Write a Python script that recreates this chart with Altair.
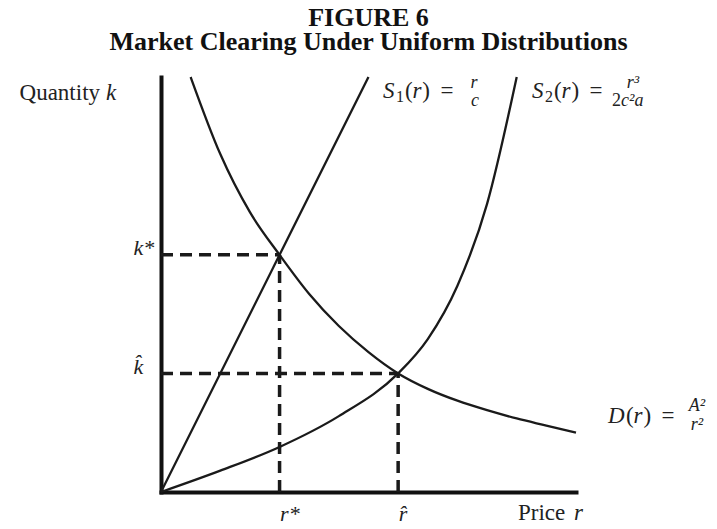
import altair as alt
import pandas as pd

# ---- values (r = price, k = quantity) ----
s1_r = [0.0, 1.75]
s1_k = [0.0, 3.5]
s2_r = [0.0, 0.5, 1.0, 1.5, 2.0, 2.25, 2.5, 2.75, 3.0]
s2_k = [0.0, 0.18, 0.38, 0.64, 1.0, 1.29, 1.74, 2.43, 3.5]
d_r = [0.25, 0.5, 0.75, 1.0, 1.25, 1.5, 1.75, 2.0, 2.25, 2.5, 2.75, 3.0, 3.25, 3.5]
d_k = [3.5, 2.85, 2.36, 2.0, 1.67, 1.4, 1.18, 1.0, 0.87, 0.77, 0.69, 0.62, 0.56, 0.5]

eq_r = [1.0, 2.0]            # r*, r-hat
eq_k = [2.0, 1.0]            # k*, k-hat
x_tick_labels = ["r*", "r\u0302"]
y_tick_labels = ["k*", "k\u0302"]
axis_max = 3.5

title_lines = ["FIGURE 6", "Market Clearing Under Uniform Distributions"]

# annotation pieces: text, r, k, font size, style, align
ann_text = ["Quantity", "k", "Price", "r",
            "S", "1", "(", "r", ")", "=", "r", "c",
            "S", "2", "(", "r", ")", "=", "r\u00b3", "2", "c\u00b2a",
            "D", "(", "r", ")", "=", "A\u00b2", "r\u00b2"]
ann_r = [-0.514, -0.464, 3.011, 3.483,
         1.872, 1.982, 2.058, 2.159, 2.269, 2.412, 2.640, 2.648,
         3.129, 3.239, 3.314, 3.416, 3.526, 3.669, 3.981, 3.880, 3.880,
         3.770, 3.922, 4.023, 4.133, 4.276, 4.520, 4.520]
ann_k = [3.306, 3.306, -0.236, -0.236,
         3.323, 3.289, 3.323, 3.323, 3.323, 3.323, 3.407, 3.255,
         3.323, 3.289, 3.323, 3.323, 3.323, 3.323, 3.407, 3.255, 3.255,
         0.582, 0.582, 0.582, 0.582, 0.582, 0.683, 0.523]
ann_size = [23, 23, 23, 23,
            23, 16, 23, 23, 23, 23, 18, 18,
            23, 16, 23, 23, 23, 23, 18, 18, 18,
            23, 23, 23, 23, 23, 18, 18]
ann_style = ["normal", "italic", "normal", "italic",
             "italic", "normal", "normal", "italic", "normal", "normal", "italic", "italic",
             "italic", "normal", "normal", "italic", "normal", "normal", "italic", "normal", "italic",
             "italic", "normal", "italic", "normal", "normal", "italic", "italic"]
ann_align = ["right", "left", "left", "left",
             "left", "left", "left", "center", "right", "center", "center", "center",
             "left", "left", "left", "center", "right", "center", "center", "right", "left",
             "left", "left", "center", "right", "center", "center", "center"]

# ---- tables ----
rows = []
for name, rs, ks in [("S1", s1_r, s1_k), ("S2", s2_r, s2_k), ("D", d_r, d_k)]:
    for i, (r, k) in enumerate(zip(rs, ks)):
        rows.append({"series": name, "i": i, "r": r, "k": k})
curves = pd.DataFrame(rows)

dash_rows = []
for r, k in zip(eq_r, eq_k):
    dash_rows.append({"r0": 0.0, "r1": r, "k0": k, "k1": k})
    dash_rows.append({"r0": r, "r1": r, "k0": 0.0, "k1": k})
dashes = pd.DataFrame(dash_rows)

ann = pd.DataFrame({"text": ann_text, "r": ann_r, "k": ann_k, "size": ann_size,
                    "style": ann_style, "align": ann_align})

FONT = "Liberation Serif"
INK = "#1a1a1a"

xs = alt.Scale(domain=[0, axis_max], nice=False, zero=True)
ys = alt.Scale(domain=[0, axis_max], nice=False, zero=True)

x_expr = f"datum.value == {eq_r[0]} ? '{x_tick_labels[0]}' : '{x_tick_labels[1]}'"
y_expr = f"datum.value == {eq_k[0]} ? '{y_tick_labels[0]}' : '{y_tick_labels[1]}'"

common_axis = dict(title=None, grid=False, ticks=False, tickSize=0, domainWidth=4,
                   domainColor="#111", domainCap="square", labelFont=FONT,
                   labelFontStyle="italic", labelFontSize=22, labelColor="#222",
                   labelAlign="left", labelBaseline="alphabetic", labelPadding=28,
                   labelOverlap=False, labelFlush=False)
xa = alt.Axis(values=eq_r, labelExpr=x_expr, **common_axis)
ya = alt.Axis(values=sorted(eq_k), labelExpr=y_expr, **common_axis)

dash_layer = alt.Chart(dashes).mark_rule(
    color="#1a1a1a", strokeWidth=3.5, strokeDash=[12, 7]
).encode(
    x=alt.X("r0:Q", scale=xs, axis=xa), x2="r1:Q",
    y=alt.Y("k0:Q", scale=ys, axis=ya), y2="k1:Q",
)

curve_layer = alt.Chart(curves).mark_line(
    interpolate="monotone", color=INK, strokeWidth=2.3
).encode(
    x=alt.X("r:Q", scale=xs, axis=xa),
    y=alt.Y("k:Q", scale=ys, axis=ya),
    detail="series:N",
    order="i:Q",
)

text_layers = []
for style in ["normal", "italic"]:
    for align in ["left", "center", "right"]:
        sub = ann[(ann["style"] == style) & (ann["align"] == align)]
        if len(sub) == 0:
            continue
        text_layers.append(
            alt.Chart(sub).mark_text(
                align=align, baseline="alphabetic", font=FONT, fontStyle=style,
                color="#222"
            ).encode(
                x=alt.X("r:Q", scale=xs, axis=xa),
                y=alt.Y("k:Q", scale=ys, axis=ya),
                text="text:N",
                size=alt.Size("size:Q", scale=None, legend=None),
            )
        )

chart = alt.layer(dash_layer, curve_layer, *text_layers).properties(
    width=415,
    height=415,
    autosize=alt.AutoSizeParams(type="none"),
    padding={"left": 153, "top": 69, "right": 133, "bottom": 34},
    title=alt.TitleParams(
        text=title_lines, font=FONT, fontSize=26, fontWeight="bold",
        lineHeight=24, anchor="middle", color="#111", offset=17,
    ),
).configure_view(stroke=None)

chart.save("out.html", embed_options={"renderer": "svg", "actions": False})
